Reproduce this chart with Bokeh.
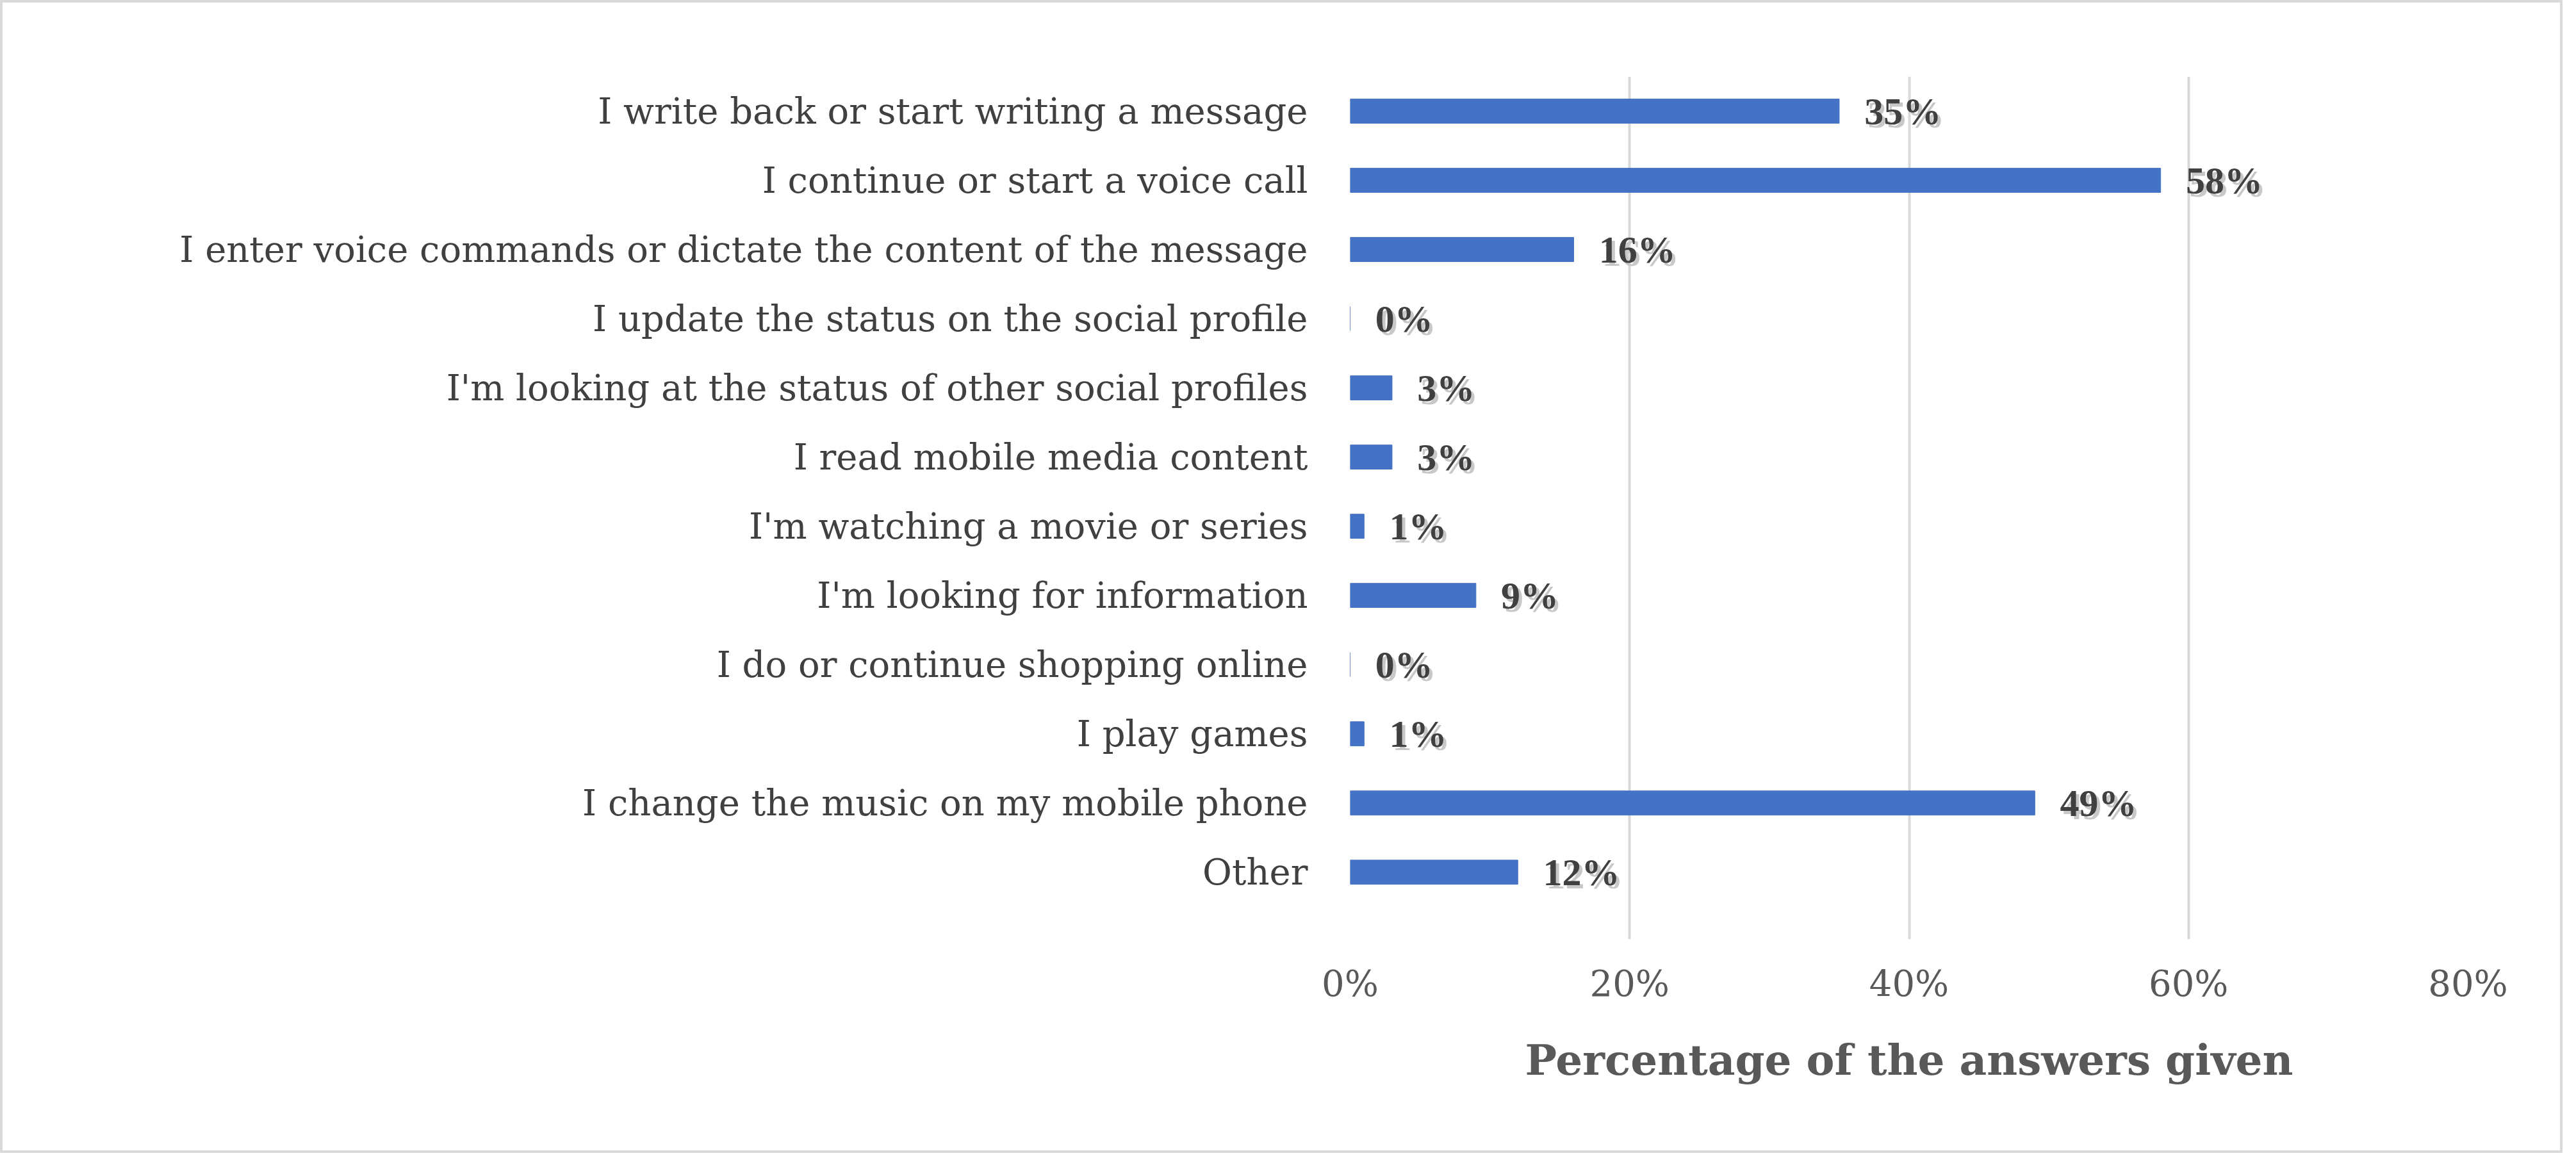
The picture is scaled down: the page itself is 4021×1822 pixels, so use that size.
from bokeh.plotting import figure
from bokeh.models import Label, FixedTicker, NumeralTickFormatter, ColumnDataSource, Range1d
from bokeh.embed import file_html
from bokeh.resources import INLINE

categories = ["I write back or start writing a message",
              "I continue or start a voice call",
              "I enter voice commands or dictate the content of the message",
              "I update the status on the social profile",
              "I'm looking at the status of other social profiles",
              "I read mobile media content",
              "I'm watching a movie or series",
              "I'm looking for information",
              "I do or continue shopping online",
              "I play games",
              "I change the music on my mobile phone",
              "Other"]
values = [0.35, 0.58, 0.16, 0.0, 0.03, 0.03, 0.01, 0.09, 0.0, 0.01, 0.49, 0.12]
labels = ["35%", "58%", "16%", "0%", "3%", "3%", "1%", "9%", "0%", "1%", "49%", "12%"]

n = len(categories)
ypos = [n - 1 - i for i in range(n)]
FONT = "DejaVu Serif"

src = ColumnDataSource(dict(y=ypos, v=values, lab=labels,
                            lx=[v + 0.018 for v in values]))

p = figure(width=4000, height=1800, output_backend="svg", toolbar_location=None,
           x_range=Range1d(0, 0.8), y_range=Range1d(-0.97, n - 0.5),
           min_border_left=2103, min_border_right=152,
           min_border_top=115, min_border_bottom=338)
p.styles = {"border": "4px solid #d9d9d9"}
p.outline_line_color = None
p.hbar(y="y", right="v", left=0, height=0.35, source=src, color="#4472C4")
p.text(x="lx", y="y", text="lab", source=src, text_font_size="60px",
       text_font_style="bold", text_color="#c8c8c8", text_baseline="middle",
       x_offset=5, y_offset=5, text_font=FONT)
p.text(x="lx", y="y", text="lab", source=src, text_font_size="60px",
       text_font_style="bold", text_color="#404040", text_baseline="middle",
       text_font=FONT)

p.xaxis.ticker = FixedTicker(ticks=[0, 0.2, 0.4, 0.6, 0.8])
p.xaxis.formatter = NumeralTickFormatter(format="0%")
p.xaxis.axis_line_color = None
p.xaxis.major_tick_line_color = None
p.xaxis.minor_tick_line_color = None
p.xaxis.major_label_text_font_size = "56px"
p.xaxis.major_label_text_color = "#595959"
p.xaxis.major_label_text_font = FONT
p.xaxis.major_label_standoff = 30
p.xaxis.axis_label = "Percentage of the answers given"
p.xaxis.axis_label_text_font = FONT
p.xaxis.axis_label_text_font_size = "66px"
p.xaxis.axis_label_text_font_style = "bold"
p.xaxis.axis_label_text_color = "#595959"
p.xaxis.axis_label_standoff = 45

p.yaxis.ticker = FixedTicker(ticks=ypos)
p.yaxis.major_label_overrides = {y: c for y, c in zip(ypos, categories)}
p.yaxis.axis_line_color = None
p.yaxis.major_tick_line_color = None
p.yaxis.minor_tick_line_color = None
p.yaxis.major_label_text_font_size = "56px"
p.yaxis.major_label_text_color = "#404040"
p.yaxis.major_label_text_font = FONT
p.yaxis.major_label_standoff = 60

p.xgrid.grid_line_color = "#d9d9d9"
p.xgrid.grid_line_width = 4
p.ygrid.grid_line_color = None

p.add_layout(Label(x=-1878, y=718, x_units="screen", y_units="screen",
                   text="Reason of using mobile phone", angle=1.5708,
                   text_align="center", text_baseline="middle",
                   text_font=FONT, text_font_size="66px", text_font_style="bold",
                   text_color="#595959"))

open("out.html", "w").write(file_html(p, INLINE))
